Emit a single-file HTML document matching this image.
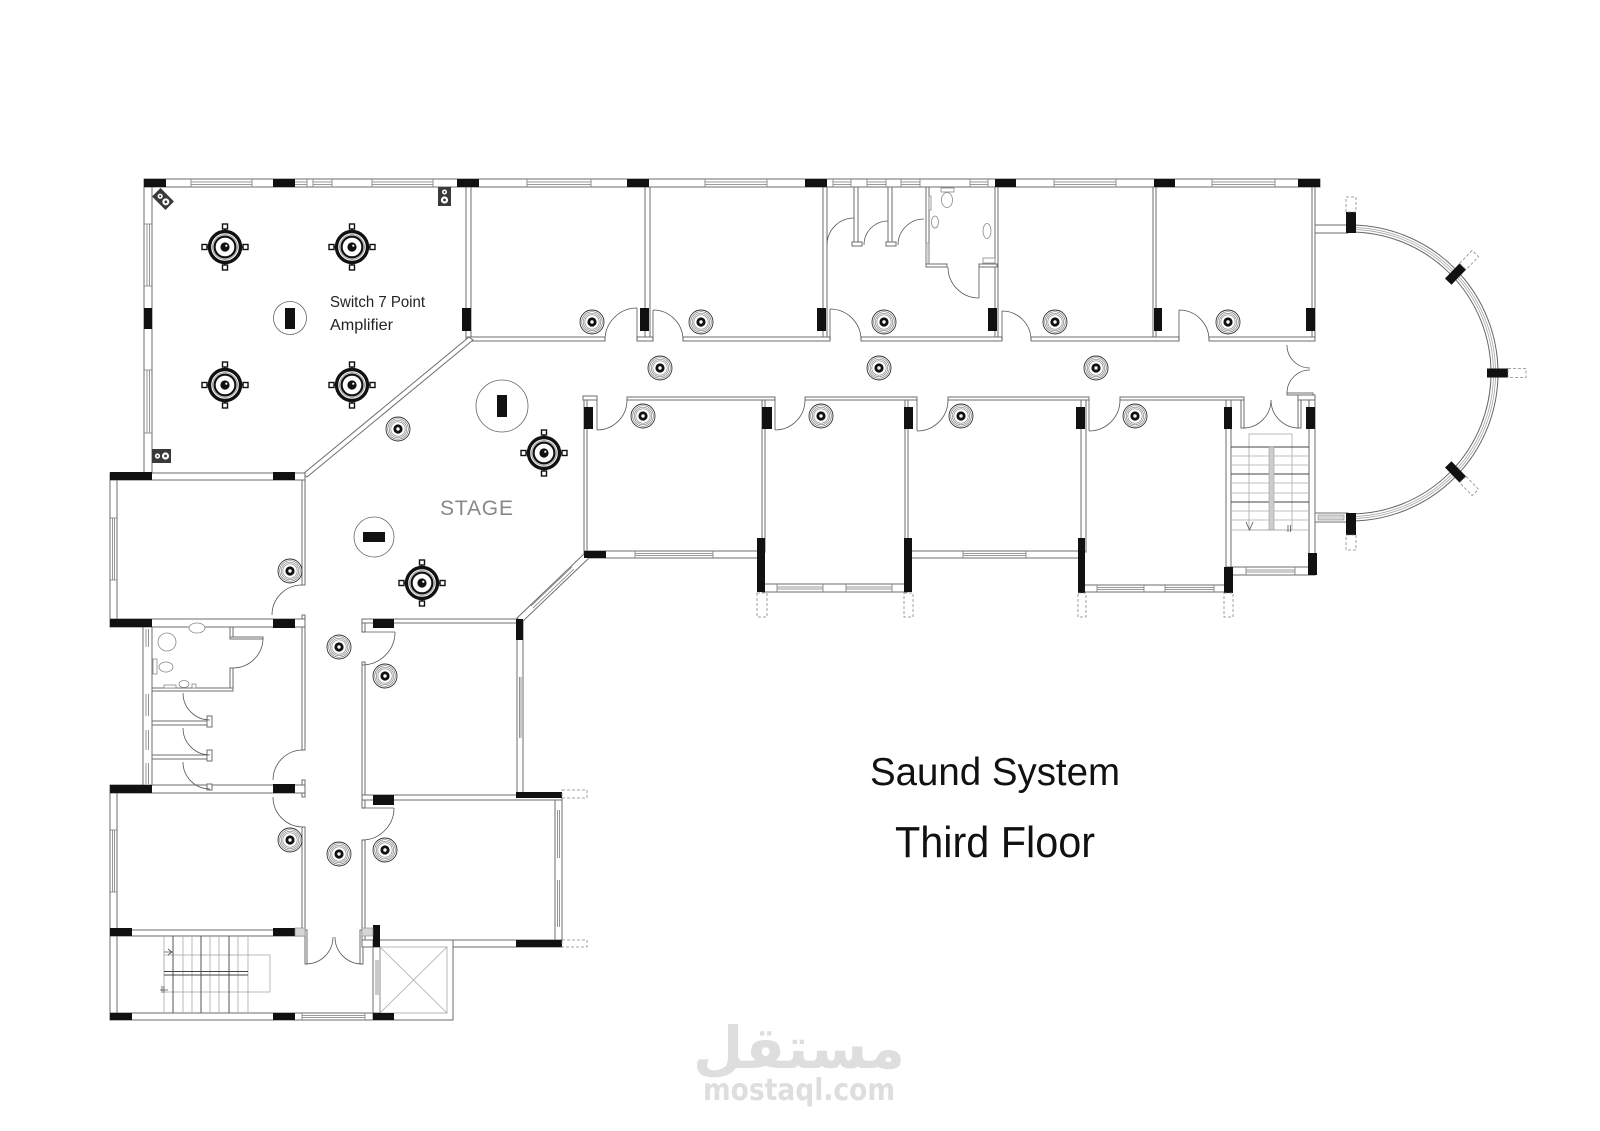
<!DOCTYPE html>
<html><head><meta charset="utf-8"><title>Saund System - Third Floor</title>
<style>
html,body{margin:0;padding:0;background:#fff;}
svg{display:block;}
.w{fill:#fff;stroke:#6e6e6e;stroke-width:1}
.p{fill:#111}
.d{stroke:#555;stroke-width:0.8;fill:none}
.win{stroke:#7a7a7a;stroke-width:0.8;fill:none}
.ds{fill:#fff;stroke:#888;stroke-width:0.8;stroke-dasharray:3 2}
.lt{stroke:#aaa;stroke-width:0.8;fill:none}
.dk{stroke:#444;stroke-width:0.9;fill:none}
.fx{fill:#fff;stroke:#888;stroke-width:0.8}
.h{fill:#d6d6d6;stroke:#888;stroke-width:0.6}
</style></head><body>
<svg width="1600" height="1131" viewBox="0 0 1600 1131" xmlns="http://www.w3.org/2000/svg">
<defs>
 <g id="cs">
  <circle r="12" fill="#fff" stroke="#333" stroke-width="0.9"/>
  <circle r="10.3" fill="none" stroke="#777" stroke-width="0.7"/>
  <circle r="8.7" fill="none" stroke="#888" stroke-width="0.7"/>
  <circle r="7.2" fill="none" stroke="#888" stroke-width="0.7"/>
  <circle r="4.6" fill="#111"/>
  <circle r="1.7" fill="#fff"/>
 </g>
 <g id="bs">
  <line x1="-20" y1="0" x2="20" y2="0" stroke="#111" stroke-width="1.4"/>
  <line x1="0" y1="-20" x2="0" y2="20" stroke="#111" stroke-width="1.4"/>
  <rect x="-23" y="-2.5" width="5" height="5" fill="#fff" stroke="#111" stroke-width="1.4"/>
  <rect x="18" y="-2.5" width="5" height="5" fill="#fff" stroke="#111" stroke-width="1.4"/>
  <rect x="-2.5" y="-23" width="5" height="5" fill="#fff" stroke="#111" stroke-width="1.4"/>
  <rect x="-2.5" y="18" width="5" height="5" fill="#fff" stroke="#111" stroke-width="1.4"/>
  <circle r="15.5" fill="#fff" stroke="#111" stroke-width="3.4"/>
  <circle r="12.4" fill="none" stroke="#888" stroke-width="0.8"/>
  <circle r="10.4" fill="#fff" stroke="#111" stroke-width="2.2"/>
  <circle r="4.6" fill="#111"/>
  <circle cx="1.3" cy="-1.3" r="1.1" fill="#fff"/>
 </g>
 <g id="bp">
  <rect x="127" y="-4.5" width="21" height="9" fill="#111"/>
  <rect x="148" y="-4.5" width="18" height="9" class="ds"/>
 </g>
</defs>

<!-- walls: vertical -->
<rect class="w" x="144" y="187" width="8" height="288"/>
<rect class="w" x="466" y="187" width="5" height="151"/>
<rect class="w" x="645" y="187" width="5" height="152"/>
<rect class="w" x="823" y="187" width="4" height="152"/>
<rect class="w" x="995" y="187" width="3" height="152"/>
<rect class="w" x="1153" y="187" width="3" height="152"/>
<rect class="w" x="1312" y="187" width="3" height="154"/>
<!-- top outer wall -->
<rect class="w" x="144" y="179" width="1176" height="8"/>
<!-- bottom of top rooms -->
<rect class="w" x="466" y="337" width="139" height="4"/>
<rect class="w" x="637" y="337" width="16" height="4"/>
<rect class="w" x="683" y="337" width="147" height="4"/>
<rect class="w" x="861" y="337" width="141" height="4"/>
<rect class="w" x="1031" y="337" width="148" height="4"/>
<rect class="w" x="1209" y="337" width="106" height="4"/>
<!-- hall diagonal -->
<polygon class="w" points="469,337 473,340 307,477 303,474"/>

<!-- left block -->
<rect class="w" x="110" y="480" width="7" height="139"/>
<rect class="w" x="302" y="477" width="3" height="108"/>
<rect class="w" x="302" y="615" width="3" height="4"/>
<rect class="w" x="110" y="473" width="195" height="7"/>
<rect class="w" x="143" y="627" width="9" height="158"/>
<rect class="w" x="302" y="627" width="3" height="123"/>
<rect class="w" x="302" y="780" width="3" height="5"/>
<rect class="w" x="110" y="619" width="195" height="8"/>
<rect class="w" x="110" y="793" width="7" height="137"/>
<rect class="w" x="302" y="793" width="3" height="4"/>
<rect class="w" x="302" y="827" width="3" height="103"/>
<rect class="w" x="110" y="785" width="195" height="8"/>
<rect class="w" x="110" y="936" width="7" height="77"/>
<rect class="w" x="110" y="930" width="195" height="6"/>
<rect class="w" x="110" y="1013" width="343" height="7"/>
<rect class="w" x="305" y="930" width="2" height="34"/>
<rect class="w" x="360" y="930" width="3" height="34"/>

<!-- bathroom inner walls -->
<rect class="w" x="230" y="627" width="3" height="11"/>
<rect class="w" x="230" y="637" width="33" height="2"/>
<rect class="w" x="230" y="668" width="3" height="22"/>
<rect class="w" x="152" y="688" width="81" height="3"/>
<rect class="w" x="152" y="721" width="58" height="4"/>
<rect class="w" x="152" y="755" width="58" height="4"/>
<rect class="w" x="207" y="716" width="5" height="11"/>
<rect class="w" x="207" y="750" width="5" height="11"/>
<rect class="w" x="207" y="784" width="5" height="6"/>

<!-- room C / C2 -->
<rect class="w" x="362" y="619" width="3" height="13"/>
<rect class="w" x="362" y="662" width="3" height="135"/>
<rect class="w" x="517" y="619" width="6" height="178"/>
<rect class="w" x="362" y="619" width="161" height="4"/>
<rect class="w" x="362" y="800" width="3" height="8"/>
<rect class="w" x="362" y="840" width="3" height="100"/>
<rect class="w" x="555" y="798" width="7" height="145"/>
<rect class="w" x="362" y="795" width="200" height="5"/>
<rect class="w" x="362" y="940" width="200" height="7"/>
<!-- elevator -->
<rect class="w" x="373" y="940" width="80" height="80"/>
<rect class="w" x="373" y="947" width="7" height="66"/>
<path class="lt" d="M380,947 L447,1013 M447,947 L380,1013"/>
<rect x="380" y="947" width="67" height="66" fill="none" stroke="#999" stroke-width="0.7"/>

<!-- lower rooms -->
<rect class="w" x="584" y="397" width="3" height="155"/>
<rect class="w" x="762" y="400" width="3" height="152"/>
<rect class="w" x="905" y="400" width="3" height="152"/>
<rect class="w" x="1081" y="400" width="5" height="152"/>
<rect class="w" x="1226" y="400" width="5" height="175"/>
<rect class="w" x="1309" y="400" width="6" height="175"/>
<rect class="w" x="1241" y="397" width="3" height="31"/>
<rect class="w" x="1298" y="397" width="3" height="31"/>
<rect class="w" x="583" y="396" width="14" height="4"/>
<rect class="w" x="627" y="397" width="148" height="3"/>
<rect class="w" x="805" y="397" width="112" height="3"/>
<rect class="w" x="948" y="397" width="141" height="3"/>
<rect class="w" x="1120" y="397" width="124" height="3"/>
<rect class="w" x="1298" y="395" width="17" height="5"/>
<rect class="w" x="1287" y="393" width="26" height="2"/>
<rect class="w" x="584" y="551" width="178" height="7"/>
<rect class="w" x="762" y="584" width="146" height="8"/>
<rect class="w" x="905" y="551" width="176" height="7"/>
<rect class="w" x="1081" y="585" width="150" height="7"/>
<rect class="w" x="1226" y="567" width="89" height="8"/>
<!-- stage right diagonal -->
<polygon class="w" points="585,553 590,557 522,622 517,618"/>
<path class="win" d="M572,567 L531,606 M574,569 L533,608"/>

<!-- balcony connectors -->
<rect class="w" x="1315" y="225" width="33" height="8"/>
<rect class="w" x="1315" y="513" width="33" height="9"/>
<rect class="h" x="1318" y="515" width="26" height="5"/>
<!-- balcony arc -->
<path d="M1350,228.5 A144.5 144.5 0 1 1 1350,517.5" fill="none" stroke="#fff" stroke-width="7"/>
<path d="M1350,225 A148 148 0 1 1 1350,521" fill="none" stroke="#666" stroke-width="1"/>
<path d="M1350,232 A141 141 0 1 1 1350,514" fill="none" stroke="#666" stroke-width="1"/>
<path d="M1350,227.5 A145.5 145.5 0 1 1 1350,518.5" fill="none" stroke="#999" stroke-width="0.7"/>
<path d="M1350,229.5 A143.5 143.5 0 1 1 1350,516.5" fill="none" stroke="#999" stroke-width="0.7"/>

<!-- windows -->
<path class="win" d="
M191,182H252M191,184.5H252M191,179V187M252,179V187
M295,182H307M295,184.5H307M307,179V187
M313,182H332M313,184.5H332M313,179V187M332,179V187
M372,182H433M372,184.5H433M372,179V187M433,179V187
M527,182H591M527,184.5H591M527,179V187M591,179V187
M705,182H767M705,184.5H767M705,179V187M767,179V187
M833,182H851M833,184.5H851M833,179V187M851,179V187
M867,182H886M867,184.5H886M867,179V187M886,179V187
M901,182H920M901,184.5H920M901,179V187M920,179V187
M970,182H988M970,184.5H988M970,179V187M988,179V187
M1054,182H1116M1054,184.5H1116M1054,179V187M1116,179V187
M1212,182H1275M1212,184.5H1275M1212,179V187M1275,179V187
M147,224V286M149.5,224V286M144,224H152M144,286H152
M147,370V433M149.5,370V433M144,370H152M144,433H152
M112.5,518V580M114.5,518V580M110,518H117M110,580H117
M112.5,830V892M114.5,830V892M110,830H117M110,892H117
M146,629V647M148.5,629V647M146,694V716M148.5,694V716M146,730V750M148.5,730V750M146,763V784M148.5,763V784
M519.5,677V738M521,677V738
M557.5,810V858M559.5,810V858M557.5,880V927M559.5,880V927
M376,960V995M378,960V995
M302,1015.5H365M302,1017.5H365M302,1013V1020M365,1013V1020
M635,553.5H713M635,555.5H713M635,551V558M713,551V558
M777,587H823M777,589H823M846,587H892M846,589H892M777,584V592M823,584V592M846,584V592M892,584V592
M963,553.5H1026M963,555.5H1026M963,551V558M1026,551V558
M1097,587.5H1144M1097,589.5H1144M1165,587.5H1214M1165,589.5H1214M1097,585V592M1144,585V592M1165,585V592M1214,585V592
M1246,570H1295M1246,572H1295M1246,567V575M1295,567V575
"/>

<!-- pillars -->
<g class="p">
<rect x="144" y="179" width="22" height="8"/>
<rect x="273" y="179" width="22" height="8"/>
<rect x="457" y="179" width="22" height="8"/>
<rect x="627" y="179" width="22" height="8"/>
<rect x="805" y="179" width="22" height="8"/>
<rect x="995" y="179" width="21" height="8"/>
<rect x="1154" y="179" width="21" height="8"/>
<rect x="1298" y="179" width="22" height="8"/>
<rect x="144" y="308" width="8" height="21"/>
<rect x="462" y="308" width="9" height="23"/>
<rect x="640" y="308" width="9" height="23"/>
<rect x="817" y="308" width="9" height="23"/>
<rect x="988" y="308" width="9" height="23"/>
<rect x="1154" y="308" width="8" height="23"/>
<rect x="1306" y="308" width="9" height="23"/>
<rect x="110" y="472" width="42" height="8"/>
<rect x="273" y="472" width="22" height="8"/>
<rect x="110" y="619" width="42" height="8"/>
<rect x="273" y="619" width="22" height="9"/>
<rect x="110" y="785" width="42" height="8"/>
<rect x="273" y="784" width="22" height="9"/>
<rect x="110" y="928" width="22" height="8"/>
<rect x="273" y="928" width="22" height="8"/>
<rect x="110" y="1013" width="22" height="7"/>
<rect x="273" y="1013" width="22" height="7"/>
<rect x="373" y="1013" width="21" height="7"/>
<rect x="373" y="619" width="21" height="9"/>
<rect x="516" y="619" width="7" height="21"/>
<rect x="373" y="795" width="21" height="10"/>
<rect x="516" y="792" width="46" height="6"/>
<rect x="516" y="940" width="46" height="7"/>
<rect x="373" y="925" width="7" height="22"/>
<rect x="584" y="407" width="9" height="22"/>
<rect x="584" y="551" width="22" height="7"/>
<rect x="762" y="407" width="10" height="22"/>
<rect x="904" y="407" width="9" height="22"/>
<rect x="1076" y="407" width="9" height="22"/>
<rect x="1224" y="407" width="8" height="22"/>
<rect x="1306" y="407" width="9" height="22"/>
<rect x="757" y="538" width="8" height="54"/>
<rect x="904" y="538" width="8" height="54"/>
<rect x="1078" y="538" width="7" height="55"/>
<rect x="1224" y="567" width="9" height="26"/>
<rect x="1308" y="553" width="9" height="22"/>
<rect x="1346" y="212" width="10" height="21"/>
<rect x="1346" y="513" width="10" height="22"/>
</g>
<rect class="h" x="295" y="928" width="10" height="8"/>
<rect class="h" x="362" y="928" width="11" height="8"/>
<rect class="ds" x="757" y="593" width="10" height="24"/>
<rect class="ds" x="904" y="593" width="9" height="24"/>
<rect class="ds" x="1078" y="593" width="8" height="24"/>
<rect class="ds" x="1224" y="593" width="9" height="24"/>
<rect class="ds" x="562" y="790" width="25" height="8"/>
<rect class="ds" x="562" y="940" width="25" height="7"/>
<rect class="ds" x="1346" y="197" width="10" height="15"/>
<rect class="ds" x="1346" y="535" width="10" height="15"/>
<g transform="translate(1360,373)">
 <use href="#bp"/>
 <use href="#bp" transform="rotate(-46)"/>
 <use href="#bp" transform="rotate(46)"/>
</g>

<!-- doors -->
<g class="d">
<path d="M637,308 A32,32 0 0 0 605,340 M637,308V340"/>
<path d="M653,310 A30,30 0 0 1 683,340 M653,310V340"/>
<path d="M830,309 A31,31 0 0 1 861,340 M830,309V340"/>
<path d="M1002,311 A29,29 0 0 1 1031,340 M1002,311V340"/>
<path d="M1179,310 A30,30 0 0 1 1209,340 M1179,310V340"/>
<path d="M597,430 A30,30 0 0 0 627,400 M597,400V430"/>
<path d="M775,430 A30,30 0 0 0 805,400 M775,400V430"/>
<path d="M917,431 A31,31 0 0 0 948,400 M917,400V431"/>
<path d="M1089,431 A31,31 0 0 0 1120,400 M1089,400V431"/>
<path d="M302,585 A30,30 0 0 0 272,615"/>
<path d="M303,750 A30,30 0 0 0 273,780"/>
<path d="M273,797 A30,30 0 0 0 303,827"/>
<path d="M395,632 A33,33 0 0 1 362,665 M362,632H395"/>
<path d="M394,808 A32,32 0 0 1 362,840 M362,808H394"/>
<path d="M263,638 A30,30 0 0 1 233,668"/>
<path d="M183,693 A27,27 0 0 0 210,720"/>
<path d="M183,728 A27,27 0 0 0 210,755"/>
<path d="M183,762 A27,27 0 0 0 210,789"/>
<path d="M306,964 A27,27 0 0 0 333,937 M362,964 A27,27 0 0 1 335,937"/>
<path d="M1243,428 A28,28 0 0 0 1271,400 M1299,428 A28,28 0 0 1 1271,400"/>
<path d="M1287,345 A23,23 0 0 0 1310,368 M1310,370 A23,23 0 0 0 1287,393"/>
<path d="M827,245 A27,27 0 0 1 854,218"/>
<path d="M864,245 A24,24 0 0 1 888,221"/>
<path d="M898,245 A26,26 0 0 1 924,219"/>
<path d="M948,267 A31,31 0 0 0 979,298 M979,267V298"/>
</g>

<!-- toilets (top) -->
<rect class="w" x="854" y="187" width="4" height="56"/>
<rect class="w" x="852" y="242" width="10" height="4"/>
<rect class="w" x="888" y="187" width="4" height="56"/>
<rect class="w" x="886" y="242" width="10" height="4"/>
<rect class="w" x="926" y="187" width="3" height="80"/>
<rect class="h" x="926" y="243" width="3" height="24"/>
<rect class="w" x="926" y="264" width="21" height="3"/>
<rect class="w" x="979" y="264" width="18" height="3"/>
<rect class="fx" x="941" y="188" width="13" height="4"/>
<ellipse class="fx" cx="947" cy="200" rx="5.5" ry="7.5"/>
<ellipse class="fx" cx="987" cy="231" rx="4" ry="7.5"/>
<ellipse class="fx" cx="935" cy="222" rx="3.5" ry="6"/>
<rect class="fx" x="929" y="196" width="2" height="14"/>
<rect class="fx" x="983" y="258" width="12" height="5"/>

<!-- bathroom fixtures (left) -->
<circle class="fx" cx="167" cy="642" r="9"/>
<ellipse class="fx" cx="197" cy="628" rx="8" ry="5"/>
<rect class="fx" x="153" y="659" width="4" height="15"/>
<ellipse class="fx" cx="166" cy="667" rx="7" ry="5"/>
<ellipse class="fx" cx="184" cy="684" rx="5" ry="3.5"/>
<rect class="fx" x="164" y="685" width="12" height="3"/>
<rect class="fx" x="192" y="684" width="4" height="4"/>

<!-- stairs bottom-left -->
<rect x="164" y="955" width="106" height="37" fill="none" stroke="#aaa" stroke-width="0.8"/>
<path class="lt" d="M164,936V1013M183,936V1013M192,936V1013M210,936V1013M219,936V1013M238,936V1013M248,936V1013"/>
<path class="dk" d="M173,936V1013M201,936V1013M229,936V1013"/>
<path class="dk" d="M164,971.5H248M164,975H248"/>
<path class="d" d="M164,952H172M168,949L172,952L168,955M160,990H168M162,986V993M164,986V993"/>

<!-- stairs top-right -->
<rect x="1249" y="434" width="43" height="96" fill="none" stroke="#aaa" stroke-width="0.8"/>
<path class="lt" d="M1231,456H1309M1231,465H1309M1231,483H1309M1231,493H1309M1231,511H1309M1231,520H1309M1231,530H1309"/>
<path class="dk" d="M1231,447H1309M1231,474H1309M1231,502H1309"/>
<rect x="1269" y="447" width="5" height="83" fill="#ccc" stroke="#999" stroke-width="0.6"/>
<path class="d" d="M1246,522L1249.5,530L1253,522M1288,525V532M1290.5,525V532"/>

<!-- wall speakers -->
<g transform="translate(163,199) rotate(45)">
 <rect x="-9.5" y="-6" width="19" height="12" fill="#3a3a3a"/>
 <circle cx="-4" cy="0" r="2.6" fill="#fff"/><circle cx="-4" cy="0" r="1" fill="#3a3a3a"/>
 <circle cx="4" cy="0" r="3.5" fill="#fff"/><circle cx="4" cy="0" r="1.4" fill="#3a3a3a"/>
</g>
<g transform="translate(444.5,196.5)">
 <rect x="-6.5" y="-9.5" width="13" height="19" fill="#3a3a3a"/>
 <circle cx="0" cy="-4.5" r="2.5" fill="#fff"/><circle cx="0" cy="-4.5" r="1" fill="#3a3a3a"/>
 <circle cx="0" cy="3.5" r="3.6" fill="#fff"/><circle cx="0" cy="3.5" r="1.4" fill="#3a3a3a"/>
</g>
<g transform="translate(161.5,456)">
 <rect x="-9.5" y="-7" width="19" height="14" fill="#3a3a3a"/>
 <circle cx="-4" cy="0" r="2.6" fill="#fff"/><circle cx="-4" cy="0" r="1" fill="#3a3a3a"/>
 <circle cx="4" cy="0" r="3.6" fill="#fff"/><circle cx="4" cy="0" r="1.4" fill="#3a3a3a"/>
</g>

<!-- amplifiers -->
<circle cx="290" cy="318" r="16.5" fill="#fff" stroke="#666" stroke-width="0.8"/>
<rect class="p" x="285" y="308" width="10" height="21"/>
<circle cx="502" cy="406" r="26" fill="#fff" stroke="#666" stroke-width="0.8"/>
<rect class="p" x="497" y="395" width="10" height="22"/>
<circle cx="374" cy="537" r="20" fill="#fff" stroke="#666" stroke-width="0.8"/>
<rect class="p" x="363" y="532" width="22" height="10"/>

<!-- big speakers -->
<use href="#bs" x="225" y="247"/>
<use href="#bs" x="352" y="247"/>
<use href="#bs" x="225" y="385"/>
<use href="#bs" x="352" y="385"/>
<use href="#bs" x="544" y="453"/>
<use href="#bs" x="422" y="583"/>

<!-- ceiling speakers -->
<use href="#cs" x="592" y="322"/>
<use href="#cs" x="701" y="322"/>
<use href="#cs" x="884" y="322"/>
<use href="#cs" x="1055" y="322"/>
<use href="#cs" x="1228" y="322"/>
<use href="#cs" x="660" y="368"/>
<use href="#cs" x="879" y="368"/>
<use href="#cs" x="1096" y="368"/>
<use href="#cs" x="643" y="416"/>
<use href="#cs" x="821" y="416"/>
<use href="#cs" x="961" y="416"/>
<use href="#cs" x="1135" y="416"/>
<use href="#cs" x="398" y="429"/>
<use href="#cs" x="290" y="571"/>
<use href="#cs" x="339" y="647"/>
<use href="#cs" x="385" y="676"/>
<use href="#cs" x="290" y="840"/>
<use href="#cs" x="339" y="854"/>
<use href="#cs" x="385" y="850"/>

<!-- text -->
<text x="330" y="307" font-family="'Liberation Sans', sans-serif" font-size="16" fill="#222" textLength="95" lengthAdjust="spacingAndGlyphs">Switch 7 Point</text>
<text x="330" y="330" font-family="'Liberation Sans', sans-serif" font-size="16" fill="#222" textLength="63" lengthAdjust="spacingAndGlyphs">Amplifier</text>
<text x="440" y="515" font-family="'Liberation Sans', sans-serif" font-size="21" fill="#888" textLength="73" lengthAdjust="spacing">STAGE</text>
<text x="870" y="785" font-family="'Liberation Sans', sans-serif" font-size="39" fill="#111" textLength="250" lengthAdjust="spacingAndGlyphs">Saund System</text>
<text x="895" y="857" font-family="'Liberation Sans', sans-serif" font-size="44" fill="#111" textLength="200" lengthAdjust="spacingAndGlyphs">Third Floor</text>
<text x="799" y="1068" text-anchor="middle" font-family="'DejaVu Sans', sans-serif" font-weight="bold" font-size="58" fill="#dedede" direction="rtl">مستقل</text>
<text x="703" y="1100" font-family="'DejaVu Sans', 'Liberation Sans', sans-serif" font-weight="bold" font-size="30" fill="#dedede" textLength="192" lengthAdjust="spacingAndGlyphs">mostaql.com</text>
</svg>
</body></html>
